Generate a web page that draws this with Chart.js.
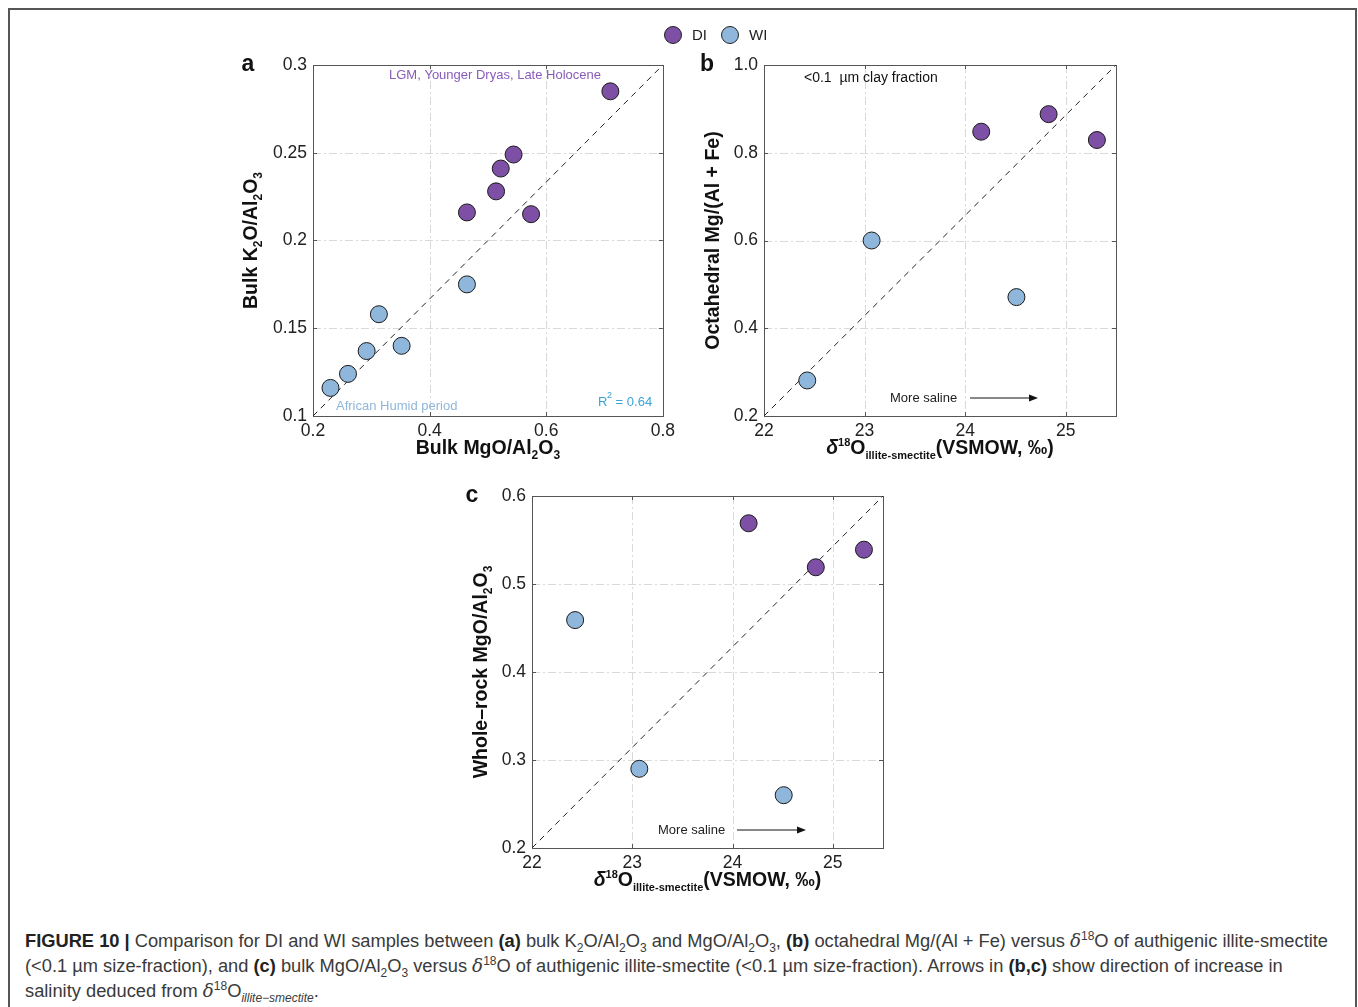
<!DOCTYPE html>
<html><head><meta charset="utf-8">
<script src="https://cdn.jsdelivr.net/npm/chart.js@4.4.0/dist/chart.umd.min.js"></script>
<style>
body{margin:0;background:#fff;width:1358px;height:1007px;overflow:hidden;position:relative;font-family:"Liberation Sans",Arial,sans-serif;}
#frame{position:absolute;left:8px;top:8px;width:1349px;height:1100px;border:2px solid #555;box-sizing:border-box;}
canvas{position:absolute;}
.lg{position:absolute;top:26px;width:16px;height:16px;border-radius:50%;border:1px solid #222;}
.lt{position:absolute;top:26px;font-size:15px;color:#222;line-height:18px;}
#cap{position:absolute;left:25px;top:928px;font-size:18.3px;line-height:25px;color:#3a3a3a;white-space:nowrap;}
#cap b{color:#222;}
#cap sub,#cap sup{font-size:12px;line-height:0;}
.dl{font-family:"DejaVu Serif",serif;font-style:italic;}
</style></head>
<body>
<div id="frame"></div>
<canvas id="ca" width="480" height="440" style="left:200px;top:40px"></canvas>
<canvas id="cb" width="450" height="440" style="left:690px;top:40px"></canvas>
<canvas id="cc" width="450" height="440" style="left:455px;top:475px"></canvas>
<div class="lg" style="left:664px;background:#7d4fa5"></div><div class="lt" style="left:692px">DI</div>
<div class="lg" style="left:721px;background:#8fb7dc"></div><div class="lt" style="left:749px">WI</div>
<div id="cap"><b>FIGURE 10 |</b> Comparison for DI and WI samples between <b>(a)</b> bulk K<sub>2</sub>O/Al<sub>2</sub>O<sub>3</sub> and MgO/Al<sub>2</sub>O<sub>3</sub>, <b>(b)</b> octahedral Mg/(Al + Fe) versus <span class="dl">δ</span><sup>18</sup>O of authigenic illite-smectite<br>(&lt;0.1 µm size-fraction), and <b>(c)</b> bulk MgO/Al<sub>2</sub>O<sub>3</sub> versus <span class="dl">δ</span><sup>18</sup>O of authigenic illite-smectite (&lt;0.1 µm size-fraction). Arrows in <b>(b,c)</b> show direction of increase in<br>salinity deduced from <span class="dl">δ</span><sup>18</sup>O<sub><i>illite−smectite</i></sub>.</div>
<script>
// ---- data ----
const aDI_x = [0.710, 0.544, 0.522, 0.514, 0.464, 0.574];
const aDI_y = [0.285, 0.249, 0.241, 0.228, 0.216, 0.215];
const aWI_x = [0.464, 0.313, 0.352, 0.292, 0.260, 0.230];
const aWI_y = [0.175, 0.158, 0.140, 0.137, 0.124, 0.116];
const bcDI_x = [24.16, 24.83, 25.31];
const bDI_y = [0.848, 0.888, 0.829];
const cDI_y = [0.569, 0.519, 0.539];
const bcWI_x = [23.07, 24.51, 22.43];
const bWI_y = [0.600, 0.471, 0.281];
const cWI_y = [0.290, 0.260, 0.459];
const aXTicks = [0.2, 0.4, 0.6, 0.8];
const aXLabels = ["0.2", "0.4", "0.6", "0.8"];
const aYTicks = [0.1, 0.15, 0.2, 0.25, 0.3];
const aYLabels = ["0.1", "0.15", "0.2", "0.25", "0.3"];
const bcXTicks = [22, 23, 24, 25];
const bcXLabels = ["22", "23", "24", "25"];
const bYTicks = [0.2, 0.4, 0.6, 0.8, 1.0];
const bYLabels = ["0.2", "0.4", "0.6", "0.8", "1.0"];
const cYTicks = [0.2, 0.3, 0.4, 0.5, 0.6];
const cYLabels = ["0.2", "0.3", "0.4", "0.5", "0.6"];
const aRef = [[0.2, 0.1], [0.8, 0.3]];
const bRef = [[22, 0.2], [25.5, 1.0]];
const cRef = [[22, 0.2], [25.5, 0.6]];

const PURPLE = '#7d4fa5', BLUE = '#8fb7dc';
const FAM = '"Liberation Sans", Arial, sans-serif';
const pts = (xs, ys) => xs.map((x, i) => ({x: x, y: ys[i]}));

function rich(ctx, segs, x, y, rot) {
  ctx.save(); ctx.translate(x, y); if (rot) ctx.rotate(rot);
  ctx.textBaseline = 'alphabetic'; ctx.textAlign = 'left'; ctx.fillStyle = '#111';
  const f = s => (s.it ? 'italic ' : '') + 'bold ' + (s.k ? (s.sz || 12) : 19.5) + 'px ' + FAM;
  let tot = 0;
  segs.forEach(s => { ctx.font = f(s); tot += ctx.measureText(s.t).width; });
  let cx = -tot / 2;
  segs.forEach(s => {
    ctx.font = f(s);
    const dy = s.k === 'sub' ? 5 : (s.k === 'sup' ? -8 : 0);
    ctx.fillText(s.t, cx, 7 + dy);
    cx += ctx.measureText(s.t).width;
  });
  ctx.restore();
}
function arrow(ctx, x1, x2, y) {
  ctx.save(); ctx.strokeStyle = '#111'; ctx.fillStyle = '#111'; ctx.lineWidth = 1;
  ctx.beginPath(); ctx.moveTo(x1, y); ctx.lineTo(x2 - 6, y); ctx.stroke();
  ctx.beginPath(); ctx.moveTo(x2, y); ctx.lineTo(x2 - 9, y - 3.5); ctx.lineTo(x2 - 9, y + 3.5); ctx.closePath(); ctx.fill();
  ctx.restore();
}

function makeChart(id, c) {
  const cv = document.getElementById(id);
  const offX = parseFloat(cv.style.left), offY = parseFloat(cv.style.top);
  const frame = {
    id: 'frame' + id,
    beforeDatasetsDraw(chart) {
      const ctx = chart.ctx, a = chart.chartArea, sx = chart.scales.x, sy = chart.scales.y;
      ctx.save();
      ctx.strokeStyle = '#d9d9d9'; ctx.lineWidth = 1; ctx.setLineDash([8, 3, 2, 3]);
      c.xt.forEach(v => { const p = Math.round(sx.getPixelForValue(v)) + 0.5;
        ctx.beginPath(); ctx.moveTo(p, a.top); ctx.lineTo(p, a.bottom); ctx.stroke(); });
      c.yt.forEach(v => { const p = Math.round(sy.getPixelForValue(v)) + 0.5;
        ctx.beginPath(); ctx.moveTo(a.left, p); ctx.lineTo(a.right, p); ctx.stroke(); });
      ctx.setLineDash([]);
      ctx.strokeStyle = '#555';
      c.xt.forEach(v => { const p = Math.round(sx.getPixelForValue(v)) + 0.5;
        ctx.beginPath(); ctx.moveTo(p, a.bottom); ctx.lineTo(p, a.bottom - 4);
        ctx.moveTo(p, a.top); ctx.lineTo(p, a.top + 4); ctx.stroke(); });
      c.yt.forEach(v => { const p = Math.round(sy.getPixelForValue(v)) + 0.5;
        ctx.beginPath(); ctx.moveTo(a.left, p); ctx.lineTo(a.left + 4, p);
        ctx.moveTo(a.right, p); ctx.lineTo(a.right - 4, p); ctx.stroke(); });
      ctx.strokeRect(Math.round(a.left) + 0.5, Math.round(a.top) + 0.5, Math.round(a.right - a.left), Math.round(a.bottom - a.top));
      ctx.restore();
    },
    afterDraw(chart) {
      const ctx = chart.ctx, a = chart.chartArea;
      const mx = (a.left + a.right) / 2, my = (a.top + a.bottom) / 2;
      rich(ctx, c.xTitle, mx, a.bottom + 31, 0);
      rich(ctx, c.yTitle, a.left - c.yTitleOff, my, -Math.PI / 2);
      ctx.save();
      ctx.fillStyle = '#111'; ctx.font = 'bold 23px ' + FAM; ctx.textAlign = 'center'; ctx.textBaseline = 'alphabetic';
      ctx.fillText(c.letter, a.left - c.letterOff, a.top + 6);
      (c.notes || []).forEach(n => {
        ctx.font = (n.sz || 13) + 'px ' + FAM; ctx.fillStyle = n.col; ctx.textAlign = n.al || 'center'; ctx.textBaseline = 'middle';
        ctx.fillText(n.t, n.x - offX, n.y - offY);
        if (n.sup) { ctx.font = '9px ' + FAM; ctx.textAlign = 'left'; ctx.fillText(n.sup[0], n.sup[1] - offX, n.y - offY - 6);
          ctx.font = (n.sz || 13) + 'px ' + FAM; ctx.fillText(n.sup[2], n.sup[3] - offX, n.y - offY); }
      });
      (c.arrows || []).forEach(r => arrow(ctx, r[0] - offX, r[1] - offX, r[2] - offY));
      ctx.restore();
    }
  };
  const tickFont = {size: 17.5, family: FAM};
  return new Chart(cv, {
    type: 'scatter',
    data: {datasets: [
      {type: 'line', data: c.ref.map(p => ({x: p[0], y: p[1]})), borderColor: '#222', borderWidth: 1, borderDash: [6, 5],
       pointRadius: 0, fill: false, order: 3, clip: false, tension: 0},
      {label: 'DI', data: c.di, backgroundColor: PURPLE, borderColor: '#1a1a1a', borderWidth: 1, pointRadius: 8.5, pointHoverRadius: 8.5, order: 1, clip: false},
      {label: 'WI', data: c.wi, backgroundColor: BLUE, borderColor: '#1a1a1a', borderWidth: 1, pointRadius: 8.5, pointHoverRadius: 8.5, order: 2, clip: false}
    ]},
    options: {
      responsive: false, animation: false, events: [],
      layout: {padding: {left: 0, top: c.pt, right: c.pr, bottom: 0}},
      plugins: {legend: {display: false}, tooltip: {enabled: false}},
      scales: {
        x: {type: 'linear', min: c.xmin, max: c.xmax, grid: {display: false, drawTicks: false}, border: {display: false},
            ticks: {color: '#222', font: tickFont, padding: 5, maxRotation: 0, autoSkip: false,
                    callback: (v, i) => c.xl[i]},
            afterBuildTicks: s => { s.ticks = c.xt.map(v => ({value: v})); },
            afterFit: s => { s.height = c.xh; }},
        y: {type: 'linear', min: c.ymin, max: c.ymax, grid: {display: false, drawTicks: false}, border: {display: false},
            ticks: {color: '#222', font: tickFont, padding: 6, autoSkip: false,
                    callback: (v, i) => c.yl[i]},
            afterBuildTicks: s => { s.ticks = c.yt.map(v => ({value: v})); },
            afterFit: s => { s.width = c.yw; }}
      }
    },
    plugins: [frame]
  });
}

makeChart('ca', {
  di: pts(aDI_x, aDI_y), wi: pts(aWI_x, aWI_y), ref: aRef,
  xmin: 0.2, xmax: 0.8, ymin: 0.1, ymax: 0.3, xt: aXTicks, xl: aXLabels, yt: aYTicks, yl: aYLabels,
  pt: 25, pr: 15, xh: 64, yw: 113,
  xTitle: [{t: 'Bulk MgO/Al'}, {t: '2', k: 'sub'}, {t: 'O'}, {t: '3', k: 'sub'}],
  yTitle: [{t: 'Bulk K'}, {t: '2', k: 'sub'}, {t: 'O/Al'}, {t: '2', k: 'sub'}, {t: 'O'}, {t: '3', k: 'sub'}],
  yTitleOff: 63, letter: 'a', letterOff: 65,
  notes: [
    {t: 'LGM, Younger Dryas, Late Holocene', x: 495, y: 75, col: '#8a5cba'},
    {t: 'African Humid period', x: 336, y: 406, col: '#8fb7dc', al: 'left'},
    {t: 'R', x: 598, y: 402, col: '#3aa3d8', al: 'left', sup: ['2', 607, ' = 0.64', 612]}
  ]
});
makeChart('cb', {
  di: pts(bcDI_x, bDI_y), wi: pts(bcWI_x, bWI_y), ref: bRef,
  xmin: 22, xmax: 25.5, ymin: 0.2, ymax: 1.0, xt: bcXTicks, xl: bcXLabels, yt: bYTicks, yl: bYLabels,
  pt: 25, pr: 24, xh: 64, yw: 74,
  xTitle: [{t: 'δ', it: true}, {t: '18', k: 'sup', sz: 11}, {t: 'O'}, {t: 'illite-smectite', k: 'sub', sz: 11}, {t: '(VSMOW, ‰)'}],
  yTitle: [{t: 'Octahedral Mg/(Al + Fe)'}],
  yTitleOff: 52, letter: 'b', letterOff: 57,
  notes: [
    {t: '<0.1  µm clay fraction', x: 804, y: 78, col: '#111', al: 'left', sz: 14},
    {t: 'More saline', x: 890, y: 398, col: '#222', al: 'left', sz: 13}
  ],
  arrows: [[970, 1038, 398]]
});
makeChart('cc', {
  di: pts(bcDI_x, cDI_y), wi: pts(bcWI_x, cWI_y), ref: cRef,
  xmin: 22, xmax: 25.5, ymin: 0.2, ymax: 0.6, xt: bcXTicks, xl: bcXLabels, yt: cYTicks, yl: cYLabels,
  pt: 21, pr: 22, xh: 67, yw: 77,
  xTitle: [{t: 'δ', it: true}, {t: '18', k: 'sup', sz: 11}, {t: 'O'}, {t: 'illite-smectite', k: 'sub', sz: 11}, {t: '(VSMOW, ‰)'}],
  yTitle: [{t: 'Whole–rock MgO/Al'}, {t: '2', k: 'sub'}, {t: 'O'}, {t: '3', k: 'sub'}],
  yTitleOff: 52, letter: 'c', letterOff: 60,
  notes: [
    {t: 'More saline', x: 658, y: 830, col: '#222', al: 'left', sz: 13}
  ],
  arrows: [[737, 806, 830]]
});
</script>
</body></html>
